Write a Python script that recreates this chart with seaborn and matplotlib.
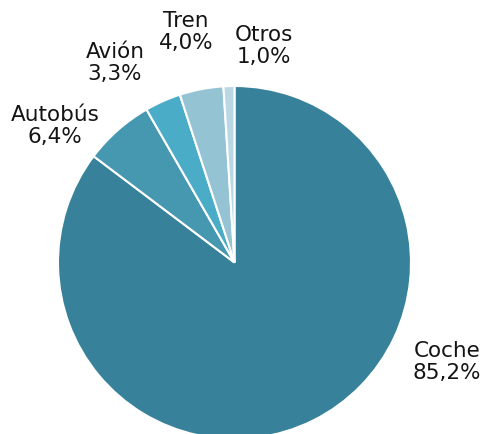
"""
Modal split pie chart (share of trips by transport mode).
"""
import matplotlib
matplotlib.use('Agg')
import matplotlib.pyplot as plt
import seaborn as sns

# data, clockwise from the top
modes = ['Coche', 'Autobús', 'Avión', 'Tren', 'Otros']
shares = [85.2, 6.4, 3.3, 4.0, 1.0]
colors = ['#37829a', '#4598af', '#4bacc8', '#94c3d4', '#b9d8e4']

# label anchors (pie radius = 1)
label_pos = [(1.204, -0.558), (-1.017, 0.779), (-0.677, 1.136),
             (-0.275, 1.312), (0.167, 1.232)]

sns.set_theme(style='white')
plt.rcParams['font.family'] = ['DejaVu Sans']

fig = plt.figure(figsize=(4.85, 4.35), dpi=100)
ax = fig.add_axes([0, 0, 1, 1])

ax.pie(shares, colors=colors, startangle=90, counterclock=False,
       wedgeprops=dict(edgecolor='white', linewidth=1.5))

for mode, share, (x, y) in zip(modes, shares, label_pos):
    txt = f"{mode}\n{share:.1f}%".replace('.', ',')
    ax.text(x, y, txt, ha='center', va='center', fontsize=15.5,
            color='#141414', linespacing=1.15)

ax.set_aspect('auto')
ax.set_xlim(-1.3286, 1.4193)
ax.set_ylim(-0.9717, 1.4929)
ax.axis('off')

plt.savefig('out.png', dpi=100)
plt.close()
